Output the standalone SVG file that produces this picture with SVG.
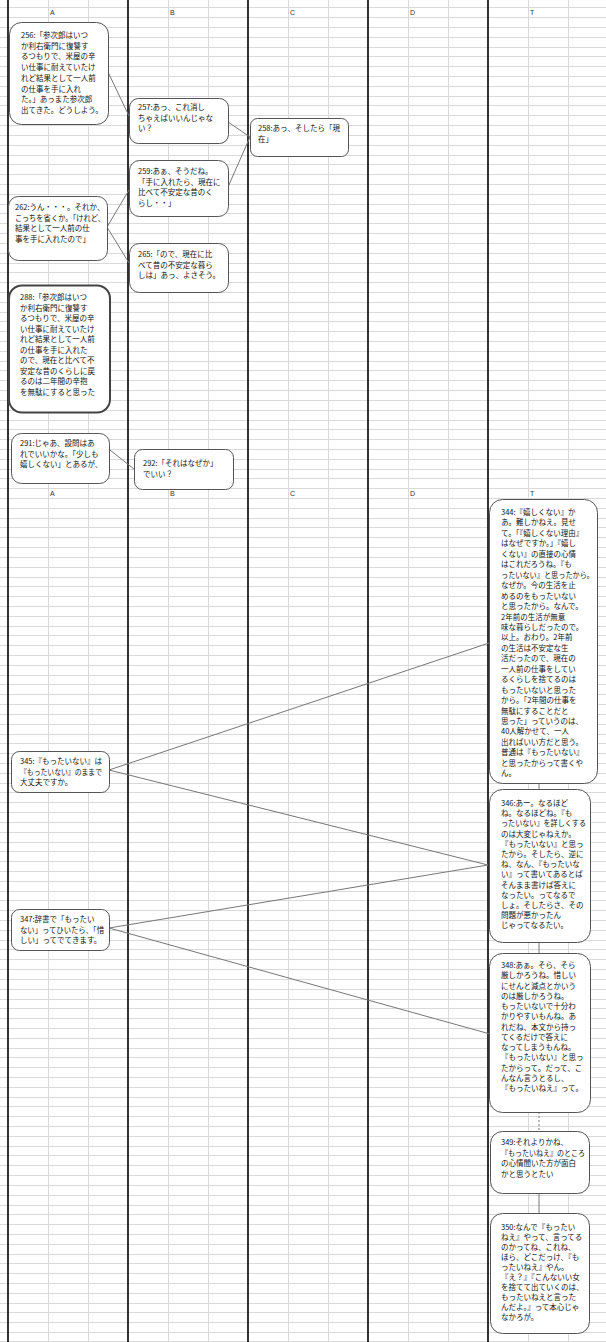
<svg xmlns="http://www.w3.org/2000/svg" width="606" height="1342" viewBox="0 0 606 1342">
<style>
.grid{stroke:#d9d9d9;stroke-width:1;fill:none}
.col{stroke:#000;stroke-width:1.6;fill:none}
.hdr{font-family:"Liberation Sans",Arial,sans-serif;font-size:7px;fill:#333}
.box{fill:#fff;stroke:#555;stroke-width:1}
.boxb{fill:#fff;stroke:#444;stroke-width:2}
.t{font-family:"Noto Sans CJK JP","Noto Sans CJK SC",sans-serif;font-size:7.5px;fill:#111}
.c{stroke:#777;stroke-width:1;fill:none}
.cd{stroke:#777;stroke-width:1;fill:none;stroke-dasharray:2 2}
</style>
<rect width="606" height="1342" fill="#fff"/>
<g id="grid">
<path class="grid" d="M0 7.5H606M0 17.5H606M0 27.5H606M0 37.5H606M0 47.5H606M0 56.5H606M0 66.5H606M0 76.5H606M0 86.5H606M0 96.5H606M0 105.5H606M0 115.5H606M0 125.5H606M0 135.5H606M0 145.5H606M0 155.5H606M0 164.5H606M0 174.5H606M0 184.5H606M0 194.5H606M0 204.5H606M0 213.5H606M0 223.5H606M0 233.5H606M0 243.5H606M0 253.5H606M0 263.5H606M0 272.5H606M0 282.5H606M0 292.5H606M0 302.5H606M0 312.5H606M0 321.5H606M0 331.5H606M0 341.5H606M0 351.5H606M0 361.5H606M0 370.5H606M0 380.5H606M0 390.5H606M0 400.5H606M0 410.5H606M0 420.5H606M0 429.5H606M0 439.5H606M0 449.5H606M0 459.5H606M0 469.5H606M0 478.5H606M0 488.5H606M0 498.5H606M0 508.5H606M0 518.5H606M0 527.5H606M0 537.5H606M0 547.5H606M0 557.5H606M0 567.5H606M0 577.5H606M0 586.5H606M0 596.5H606M0 606.5H606M0 616.5H606M0 626.5H606M0 635.5H606M0 645.5H606M0 655.5H606M0 665.5H606M0 675.5H606M0 684.5H606M0 694.5H606M0 704.5H606M0 714.5H606M0 724.5H606M0 734.5H606M0 743.5H606M0 753.5H606M0 763.5H606M0 773.5H606M0 783.5H606M0 792.5H606M0 802.5H606M0 812.5H606M0 822.5H606M0 832.5H606M0 842.5H606M0 851.5H606M0 861.5H606M0 871.5H606M0 881.5H606M0 891.5H606M0 900.5H606M0 910.5H606M0 920.5H606M0 930.5H606M0 940.5H606M0 949.5H606M0 959.5H606M0 969.5H606M0 979.5H606M0 989.5H606M0 999.5H606M0 1008.5H606M0 1018.5H606M0 1028.5H606M0 1038.5H606M0 1048.5H606M0 1057.5H606M0 1067.5H606M0 1077.5H606M0 1087.5H606M0 1097.5H606M0 1106.5H606M0 1116.5H606M0 1126.5H606M0 1136.5H606M0 1146.5H606M0 1155.5H606M0 1165.5H606M0 1175.5H606M0 1185.5H606M0 1195.5H606M0 1205.5H606M0 1214.5H606M0 1224.5H606M0 1234.5H606M0 1244.5H606M0 1254.5H606M0 1263.5H606M0 1273.5H606M0 1283.5H606M0 1293.5H606M0 1303.5H606M0 1312.5H606M0 1322.5H606M0 1332.5H606M0 1341.5H606"/>
<path class="grid" d="M48.5 0V1342M88.5 0V1342M168.5 0V1342M208.5 0V1342M288.5 0V1342M328.5 0V1342M408.5 0V1342M448.5 0V1342M528.5 0V1342M568.5 0V1342"/>
<path class="col" d="M8 0V1342M128 0V1342M248 0V1342M368 0V1342M488 0V1342"/>
<text class="hdr" x="50" y="15">A</text><text class="hdr" x="170" y="15">B</text><text class="hdr" x="290" y="15">C</text><text class="hdr" x="410" y="15">D</text><text class="hdr" x="530" y="15">T</text>
<text class="hdr" x="50" y="496">A</text><text class="hdr" x="170" y="496">B</text><text class="hdr" x="290" y="496">C</text><text class="hdr" x="410" y="496">D</text><text class="hdr" x="530" y="496">T</text>
</g>
<g id="connectors">
<path class="c" d="M108 72L129 116"/>
<path class="c" d="M228 122L250 137"/>
<path class="c" d="M228 187L250 137"/>
<path class="c" d="M107 227L129 190"/>
<path class="c" d="M107 227L129 263"/>
<path class="c" d="M110 450L134 469"/>
<path class="c" d="M109 770L489 643"/>
<path class="c" d="M109 770L488 865"/>
<path class="c" d="M109 928L488 865"/>
<path class="c" d="M109 928L490 1034"/>
<path class="c" d="M539 783V789"/>
<path class="c" d="M539 942V953"/>
<path class="cd" d="M539 1112V1131"/>
<path class="c" d="M539 1193V1213"/>
</g>
<g id="n256"><rect class="box" x="9.5" y="22.5" width="99" height="102" rx="12"/>
<text class="t" x="21" y="38"><tspan x="21">256:「参次郎はいつ</tspan><tspan x="21" dy="10.7">か利右衛門に復讐す</tspan><tspan x="21" dy="10.7">るつもりで、米屋の辛</tspan><tspan x="21" dy="10.7">い仕事に耐えていたけ</tspan><tspan x="21" dy="10.7">れど結果として一人前</tspan><tspan x="21" dy="10.7">の仕事を手に入れ</tspan><tspan x="21" dy="10.7">た。」あっまた参次郎</tspan><tspan x="21" dy="10.7">出てきた。どうしよう。</tspan></text></g>
<g id="n257"><rect class="box" x="129.5" y="98.5" width="99" height="45" rx="9"/>
<text class="t" x="138" y="110"><tspan x="138">257:あっ、これ消し</tspan><tspan x="138" dy="10.7">ちゃえばいいんじゃな</tspan><tspan x="138" dy="10.7">い？</tspan></text></g>
<g id="n258"><rect class="box" x="250.5" y="118.5" width="98" height="38" rx="7"/>
<text class="t" x="258" y="131"><tspan x="258">258:あっ、そしたら「現</tspan><tspan x="258" dy="10.7">在」</tspan></text></g>
<g id="n259"><rect class="box" x="129.5" y="160.5" width="99" height="56" rx="10"/>
<text class="t" x="138" y="174"><tspan x="138">259:あぁ、そうだね。</tspan><tspan x="138" dy="10.7">「手に入れたら、現在に</tspan><tspan x="138" dy="10.7">比べて不安定な昔のく</tspan><tspan x="138" dy="10.7">らし・・」</tspan></text></g>
<g id="n262"><rect class="box" x="8.5" y="196.5" width="99" height="64" rx="10"/>
<text class="t" x="15" y="210"><tspan x="15">262:うん・・・。それか、</tspan><tspan x="15" dy="10.7" textLength="90" lengthAdjust="spacingAndGlyphs">こっちを省くか。「けれど、</tspan><tspan x="15" dy="10.7">結果として一人前の仕</tspan><tspan x="15" dy="10.7">事を手に入れたので」</tspan></text></g>
<g id="n265"><rect class="box" x="129.5" y="243.5" width="99" height="49" rx="10"/>
<text class="t" x="138" y="257"><tspan x="138">265:「ので、現在に比</tspan><tspan x="138" dy="10.7">べて昔の不安定な暮ら</tspan><tspan x="138" dy="10.7">しは」あっ、よさそう。</tspan></text></g>
<g id="n288"><rect class="boxb" x="9" y="285.5" width="101" height="127" rx="13"/>
<text class="t" x="20" y="300"><tspan x="20">288:「参次郎はいつ</tspan><tspan x="20" dy="10.55">か利右衛門に復讐す</tspan><tspan x="20" dy="10.55">るつもりで、米屋の辛</tspan><tspan x="20" dy="10.55">い仕事に耐えていたけ</tspan><tspan x="20" dy="10.55">れど結果として一人前</tspan><tspan x="20" dy="10.55">の仕事を手に入れた</tspan><tspan x="20" dy="10.55">ので、現在と比べて不</tspan><tspan x="20" dy="10.55">安定な昔のくらしに戻</tspan><tspan x="20" dy="10.55">るのは二年間の辛抱</tspan><tspan x="20" dy="10.55">を無駄にすると思った</tspan></text></g>
<g id="n291"><rect class="box" x="11.5" y="433.5" width="98" height="50" rx="10"/>
<text class="t" x="20" y="446"><tspan x="20">291:じゃあ、設問はあ</tspan><tspan x="20" dy="10.7">れでいいかな。「少しも</tspan><tspan x="20" dy="10.7">嬉しくない」とあるが、</tspan></text></g>
<g id="n292"><rect class="box" x="134.5" y="449.5" width="99" height="40" rx="8"/>
<text class="t" x="143" y="466"><tspan x="143">292:「それはなぜか」</tspan><tspan x="143" dy="10.7">でいい？</tspan></text></g>
<g id="n344"><rect class="box" x="489.5" y="499.5" width="108" height="284" rx="13"/>
<text class="t" x="501" y="515"><tspan x="501">344:『嬉しくない』か</tspan><tspan x="501" dy="10.45">あ。難しかねえ。見せ</tspan><tspan x="501" dy="10.45">て。「『嬉しくない理由』</tspan><tspan x="501" dy="10.45">はなぜですか。」『嬉し</tspan><tspan x="501" dy="10.45">くない』の直接の心情</tspan><tspan x="501" dy="10.45">はこれだろうね。『も</tspan><tspan x="501" dy="10.45" textLength="93" lengthAdjust="spacingAndGlyphs">ったいない』と思ったから。</tspan><tspan x="501" dy="10.45">なぜか。今の生活を止</tspan><tspan x="501" dy="10.45">めるのをもったいない</tspan><tspan x="501" dy="10.45">と思ったから。なんで。</tspan><tspan x="501" dy="10.45">2年前の生活が無意</tspan><tspan x="501" dy="10.45">味な暮らしだったので。</tspan><tspan x="501" dy="10.45">以上。おわり。2年前</tspan><tspan x="501" dy="10.45">の生活は不安定な生</tspan><tspan x="501" dy="10.45">活だったので、現在の</tspan><tspan x="501" dy="10.45">一人前の仕事をしてい</tspan><tspan x="501" dy="10.45">るくらしを捨てるのは</tspan><tspan x="501" dy="10.45">もったいないと思った</tspan><tspan x="501" dy="10.45">から。「2年間の仕事を</tspan><tspan x="501" dy="10.45">無駄にすることだと</tspan><tspan x="501" dy="10.45">思った」っていうのは、</tspan><tspan x="501" dy="10.45">40人解かせて、一人</tspan><tspan x="501" dy="10.45">出ればいい方だと思う。</tspan><tspan x="501" dy="10.45">普通は『もったいない』</tspan><tspan x="501" dy="10.45">と思ったからって書くや</tspan><tspan x="501" dy="10.45">ん。</tspan></text></g>
<g id="n345"><rect class="box" x="11.5" y="751.5" width="98" height="41" rx="8"/>
<text class="t" x="20" y="764"><tspan x="20">345:『もったいない』は</tspan><tspan x="20" dy="10.7" textLength="82" lengthAdjust="spacingAndGlyphs">『もったいない』のままで</tspan><tspan x="20" dy="10.7">大丈夫ですか。</tspan></text></g>
<g id="n346"><rect class="box" x="489.5" y="789.5" width="101" height="153" rx="13"/>
<text class="t" x="501" y="806"><tspan x="501">346:あー。なるほど</tspan><tspan x="501" dy="10.2">ね。なるほどね。『も</tspan><tspan x="501" dy="10.2" textLength="85" lengthAdjust="spacingAndGlyphs">ったいない』を詳しくする</tspan><tspan x="501" dy="10.2">のは大変じゃねえか。</tspan><tspan x="501" dy="10.2">『もったいない』と思っ</tspan><tspan x="501" dy="10.2">たから。そしたら、逆に</tspan><tspan x="501" dy="10.2">ね、なん、『もったいな</tspan><tspan x="501" dy="10.2">い』って書いてあるとば</tspan><tspan x="501" dy="10.2">そんまま書けば答えに</tspan><tspan x="501" dy="10.2">なったい。ってなるで</tspan><tspan x="501" dy="10.2">しょ。そしたらさ、その</tspan><tspan x="501" dy="10.2">問題が悪かったん</tspan><tspan x="501" dy="10.2">じゃってなるたい。</tspan></text></g>
<g id="n347"><rect class="box" x="11.5" y="909.5" width="98" height="41" rx="8"/>
<text class="t" x="20" y="922"><tspan x="20">347:辞書で「もったい</tspan><tspan x="20" dy="10.7" textLength="84" lengthAdjust="spacingAndGlyphs">ない」ってひいたら、「惜</tspan><tspan x="20" dy="10.7">しい」ってでてきます。</tspan></text></g>
<g id="n348"><rect class="box" x="489.5" y="953.5" width="101" height="159" rx="13"/>
<text class="t" x="501" y="968"><tspan x="501">348:あぁ。そら、そら</tspan><tspan x="501" dy="10.25">厳しかろうね。惜しい</tspan><tspan x="501" dy="10.25">にせんと減点とかいう</tspan><tspan x="501" dy="10.25">のは厳しかろうね。</tspan><tspan x="501" dy="10.25">もったいないで十分わ</tspan><tspan x="501" dy="10.25">かりやすいもんね。あ</tspan><tspan x="501" dy="10.25">れだね、本文から持っ</tspan><tspan x="501" dy="10.25">てくるだけで答えに</tspan><tspan x="501" dy="10.25">なってしまうもんね。</tspan><tspan x="501" dy="10.25">『もったいない』と思っ</tspan><tspan x="501" dy="10.25">たからって。だって、こ</tspan><tspan x="501" dy="10.25">んなん言うとるし、</tspan><tspan x="501" dy="10.25">『もったいねえ』って。</tspan></text></g>
<g id="n349"><rect class="box" x="490.5" y="1131.5" width="99" height="62" rx="12"/>
<text class="t" x="501" y="1145"><tspan x="501">349:それよりかね、</tspan><tspan x="501" dy="10.7" textLength="84" lengthAdjust="spacingAndGlyphs">『もったいねえ』のところ</tspan><tspan x="501" dy="10.7">の心情聞いた方が面白</tspan><tspan x="501" dy="10.7">かと思うとたい</tspan></text></g>
<g id="n350"><rect class="box" x="490.5" y="1213.5" width="99" height="120" rx="12"/>
<text class="t" x="501" y="1230"><tspan x="501">350:なんで『もったい</tspan><tspan x="501" dy="10">ねえ』やって、言ってる</tspan><tspan x="501" dy="10">のかってね、これね、</tspan><tspan x="501" dy="10">ほら、どこだっけ、『も</tspan><tspan x="501" dy="10">ったいねえ』やん。</tspan><tspan x="501" dy="10">『え？』『こんないい女</tspan><tspan x="501" dy="10">を捨てて出ていくのは、</tspan><tspan x="501" dy="10">もったいねえと言った</tspan><tspan x="501" dy="10">んだよ。』って本心じゃ</tspan><tspan x="501" dy="10">なかろが。</tspan></text></g>
</svg>
